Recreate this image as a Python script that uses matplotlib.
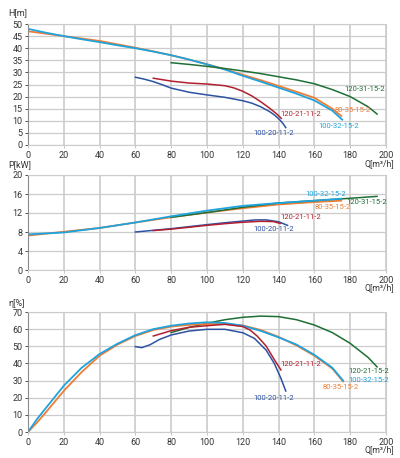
import numpy as np
import matplotlib.pyplot as plt

plt.rcParams['font.family'] = ['Roboto', 'DejaVu Sans']

# pump names and colours
names = ['80-35-15-2', '100-32-15-2', '120-31-15-2', '120-21-11-2', '100-20-11-2']
colors = ['#f07c34', '#1fa3dc', '#1f6f35', '#b21f2e', '#2d52a3']

# head curves H[m]
q_h_80 = [0, 10, 20, 30, 40, 50, 60, 70, 80, 90, 100, 110, 120, 130, 140, 150, 160, 170, 175]
h_80 = [47, 46, 45, 44, 43, 41.6, 40.2, 38.7, 37.1, 35.3, 33.4, 31.3, 29.0, 26.8, 24.4, 22.0, 19.5, 15.0, 12.0]
q_h_100 = [0, 10, 20, 30, 40, 50, 60, 70, 80, 90, 100, 110, 120, 130, 140, 150, 160, 170, 175.5]
h_100 = [48, 46.4, 45, 43.7, 42.5, 41.2, 40, 38.6, 37.1, 35.3, 33.3, 31.2, 28.6, 26.2, 23.7, 21.2, 18.4, 14.2, 10.5]
q_h_120 = [80, 90, 100, 110, 120, 130, 140, 150, 160, 170, 180, 190, 195]
h_120 = [34, 33.3, 32.5, 31.6, 30.6, 29.5, 28.2, 26.9, 25.3, 22.9, 20.0, 15.8, 12.8]
q_h_121 = [70, 80, 90, 100, 110, 115, 120, 125, 130, 135, 139, 141.5]
h_121 = [27.6, 26.4, 25.6, 25.2, 24.5, 23.6, 22.2, 20.3, 17.9, 15.2, 12.8, 11.0]
q_h_20 = [60, 65, 70, 75, 80, 90, 100, 110, 120, 125, 130, 135, 138, 140.5, 142.5, 144]
h_20 = [28, 27.2, 26.2, 24.9, 23.5, 21.8, 20.7, 19.7, 18.3, 17.3, 15.8, 13.8, 12.2, 10.5, 8.8, 7.2]

# power curves P[kW]
q_p_80 = [0, 20, 40, 60, 80, 100, 120, 140, 160, 175]
p_80 = [7.25, 8.05, 8.85, 10.0, 11.1, 12.1, 13.0, 13.8, 14.3, 14.6]
q_p_100 = [0, 20, 40, 60, 80, 100, 120, 140, 160, 175]
p_100 = [7.5, 7.9, 8.85, 10.0, 11.3, 12.5, 13.5, 14.1, 14.6, 15.0]
q_p_120 = [80, 100, 120, 140, 160, 180, 195]
p_120 = [11.1, 12.1, 13.2, 14.1, 14.6, 15.1, 15.5]
q_p_121 = [70, 80, 90, 100, 110, 120, 130, 137, 141]
p_121 = [8.3, 8.6, 9.0, 9.4, 9.75, 10.05, 10.25, 10.2, 9.8]
q_p_20 = [60, 80, 100, 110, 120, 127, 133, 140, 145]
p_20 = [8.0, 8.7, 9.55, 9.95, 10.3, 10.55, 10.55, 10.15, 9.4]

# efficiency curves eta[%]
q_e_80 = [0, 5, 10, 20, 30, 40, 50, 60, 70, 80, 90, 100, 110, 120, 130, 140, 150, 160, 170, 176]
e_80 = [0, 5.5, 11.5, 24, 35, 44.5, 51, 56, 59.5, 61.5, 62.5, 63, 63, 62.2, 59.5, 55.5, 50.5, 44.5, 37, 29.5]
q_e_100 = [0, 5, 10, 20, 30, 40, 50, 60, 70, 80, 90, 100, 110, 120, 130, 140, 150, 160, 170, 176]
e_100 = [0, 7.5, 14, 27, 37.5, 45.5, 51.5, 56.5, 60, 62, 63.3, 64, 63.6, 62, 59, 55.2, 51, 45, 37.5, 30]
q_e_120 = [80, 90, 100, 110, 120, 130, 140, 150, 160, 170, 180, 190, 195]
e_120 = [58, 61, 63.4, 65.5, 66.9, 67.6, 67.3, 65.5, 62.4, 58, 51.7, 43.5, 38]
q_e_121 = [70, 80, 90, 100, 110, 120, 124, 128, 133, 137.5, 141.3]
e_121 = [56, 59.1, 61.1, 62, 62.8, 61.5, 59.5, 56, 50.2, 42.4, 36.2]
q_e_20 = [60, 63.5, 68, 73.5, 80, 90, 100, 110, 120, 126.5, 133, 137.6, 141.3, 144]
e_20 = [49.8, 49.2, 50.8, 54, 56.6, 58.9, 59.9, 59.9, 57.9, 54.6, 47.8, 40, 31.3, 23.9]

fig = plt.figure(figsize=(4, 4.58), dpi=100)

W, H = 400, 458
left, right = 28, 386
panels = [(24, 145), (175, 270), (312, 432)]


def make_ax(top, bottom):
    ax = fig.add_axes([left / W, 1 - bottom / H, (right - left) / W, (bottom - top) / H])
    ax.set_xlim(0, 200)
    ax.set_xticks(np.arange(0, 201, 20))
    ax.grid(axis='x', color='#d2d2d2', lw=1.4)
    ax.grid(axis='y', color='#cccccc', lw=0.9)
    ax.set_axisbelow(True)
    for s in ax.spines.values():
        s.set_color('#cccccc')
        s.set_linewidth(0.8)
    ax.spines['left'].set_color('#8a8a8a')
    ax.tick_params(labelsize=6.5, colors='#333333', length=2, width=0.6, pad=2)
    ax.tick_params(axis='x', color='#bbbbbb')
    return ax


# head
ax1 = make_ax(*panels[0])
ax1.set_ylim(0, 50)
ax1.set_yticks(np.arange(0, 51, 5))
ax1.plot(q_h_80, h_80, color=colors[0], lw=1.3)
ax1.plot(q_h_100, h_100, color=colors[1], lw=1.3)
ax1.plot(q_h_120, h_120, color=colors[2], lw=1.1)
ax1.plot(q_h_121, h_121, color=colors[3], lw=1.1)
ax1.plot(q_h_20, h_20, color=colors[4], lw=1.1)
ax1.text(177, 23, names[2], color=colors[2], fontsize=5.5, va='center')
ax1.text(171.5, 14.5, names[0], color=colors[0], fontsize=5.5, va='center')
ax1.text(162, 8, names[1], color=colors[1], fontsize=5.5, va='center')
ax1.text(141, 13, names[3], color=colors[3], fontsize=5.5, va='center')
ax1.text(126, 5, names[4], color=colors[4], fontsize=5.5, va='center')

# power
ax2 = make_ax(*panels[1])
ax2.set_ylim(0, 20)
ax2.set_yticks(np.arange(0, 21, 4))
ax2.plot(q_p_80, p_80, color=colors[0], lw=1.3)
ax2.plot(q_p_120, p_120, color=colors[2], lw=1.1)
ax2.plot(q_p_100, p_100, color=colors[1], lw=1.3)
ax2.plot(q_p_20, p_20, color=colors[4], lw=1.1)
ax2.plot(q_p_121, p_121, color=colors[3], lw=1.1)
ax2.text(155, 16.1, names[1], color=colors[1], fontsize=5.5, va='center')
ax2.text(178, 14.3, names[2], color=colors[2], fontsize=5.5, va='center')
ax2.text(160, 13.3, names[0], color=colors[0], fontsize=5.5, va='center')
ax2.text(141, 11.2, names[3], color=colors[3], fontsize=5.5, va='center')
ax2.text(126, 8.6, names[4], color=colors[4], fontsize=5.5, va='center')

# efficiency
ax3 = make_ax(*panels[2])
ax3.set_ylim(0, 70)
ax3.set_yticks(np.arange(0, 71, 10))
ax3.plot(q_e_120, e_120, color=colors[2], lw=1.1)
ax3.plot(q_e_80, e_80, color=colors[0], lw=1.3)
ax3.plot(q_e_100, e_100, color=colors[1], lw=1.3)
ax3.plot(q_e_20, e_20, color=colors[4], lw=1.1)
ax3.plot(q_e_121, e_121, color=colors[3], lw=1.1)
ax3.text(141, 39.5, names[3], color=colors[3], fontsize=5.5, va='center')
ax3.text(179, 35.6, '120-21-15-2', color=colors[2], fontsize=5.5, va='center')
ax3.text(179, 30.3, names[1], color=colors[1], fontsize=5.5, va='center')
ax3.text(164.5, 26.4, names[0], color=colors[0], fontsize=5.5, va='center')
ax3.text(126, 20, names[4], color=colors[4], fontsize=5.5, va='center')

# axis titles
for ylab, ypix in [('H[m]', 13), ('P[kW]', 165), ('η[%]', 304)]:
    fig.text(8 / W, 1 - ypix / H, ylab, fontsize=6.5, color='#333333', va='center')
for ypix in [164, 288, 450]:
    fig.text(394 / W, 1 - ypix / H, 'Q[m³/h]', fontsize=6.2, color='#333333',
             va='center', ha='right')

fig.savefig('out.png', dpi=100)
